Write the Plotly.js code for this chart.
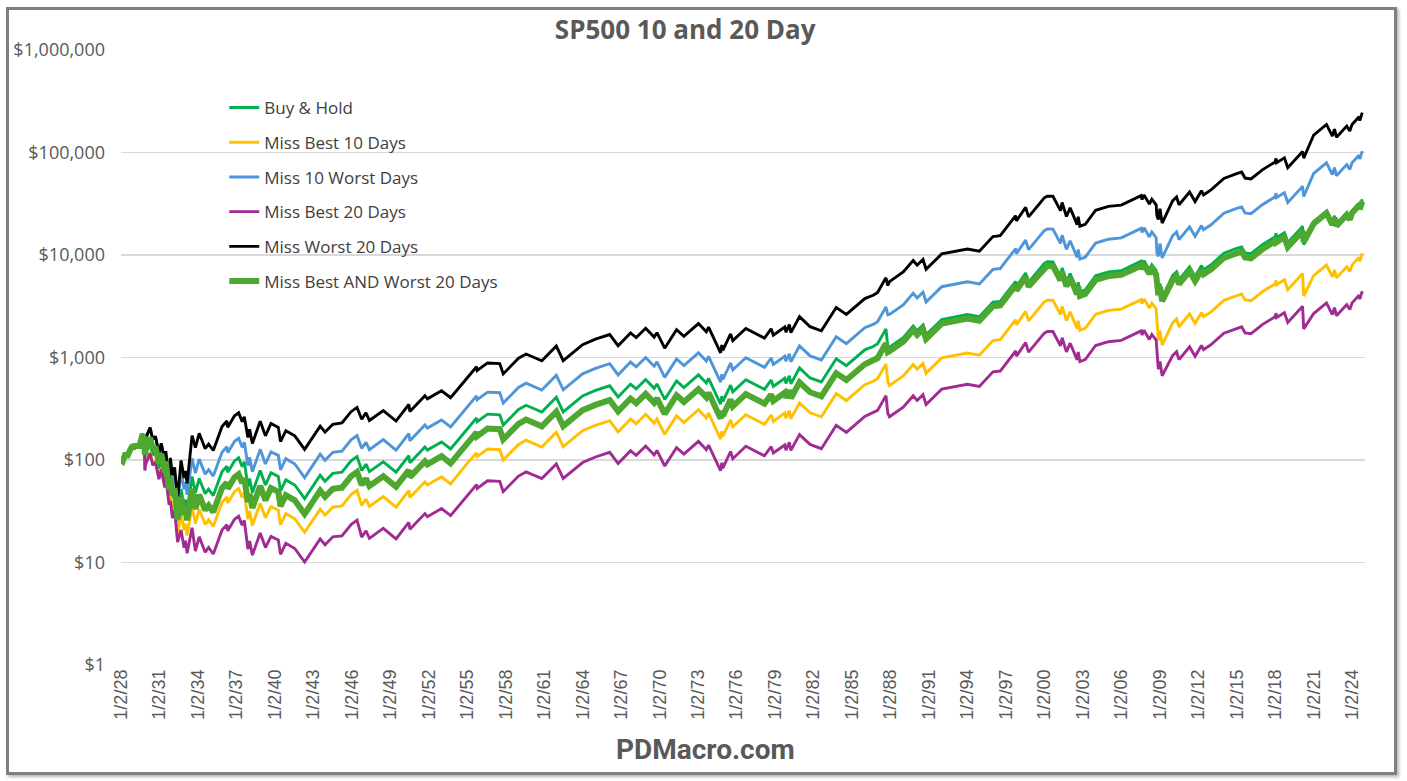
<!DOCTYPE html>
<html>
<head>
<meta charset="utf-8">
<script src="https://cdn.plot.ly/plotly-3.0.1.min.js"></script>
<style>
html,body{margin:0;padding:0;background:#fff;}
#wrap{position:relative;width:1407px;height:781px;overflow:hidden;}
#chart{position:absolute;left:0;top:0;width:1407px;height:781px;}
#frame{position:absolute;left:6px;top:7px;width:1385px;height:762px;border:3px solid #7f7f7f;box-shadow:2px 2px 3px #b5b5b5;pointer-events:none;}
</style>
</head>
<body>
<div id="wrap"><div id="chart"></div><div id="frame"></div></div>
<script>
const dates = [
'1928-01-03','1928-02-20','1928-05-14','1928-06-18','1928-09-07','1928-11-28','1928-12-08','1929-01-31','1929-03-26','1929-05-01',
'1929-05-27','1929-09-07','1929-10-04','1929-10-10','1929-10-25','1929-10-29','1929-11-13','1929-12-09','1930-01-02','1930-04-10',
'1930-06-24','1930-09-10','1930-12-16','1931-02-24','1931-06-02','1931-06-27','1931-10-05','1931-11-09','1932-01-05','1932-03-08',
'1932-06-01','1932-09-07','1932-12-03','1933-01-11','1933-02-27','1933-07-18','1933-10-21','1934-02-06','1934-07-26','1934-11-01',
'1935-03-14','1935-11-19','1936-04-06','1936-04-29','1936-11-09','1937-03-06','1937-06-14','1937-08-14','1937-11-24','1938-01-12',
'1938-03-31','1938-11-09','1939-04-08','1939-09-12','1940-04-08','1940-06-10','1940-11-09','1941-07-22','1942-04-28','1943-07-14',
'1943-11-30','1944-07-10','1945-03-26','1945-12-10','1946-05-29','1946-10-09','1947-02-08','1947-05-17','1948-06-15','1949-06-13',
'1950-06-12','1950-07-13','1951-09-14','1951-11-24','1952-12-30','1953-09-14','1954-12-31','1955-09-23','1955-10-11','1956-08-02',
'1957-07-15','1957-10-22','1958-12-31','1959-08-03','1960-10-25','1961-12-12','1962-06-26','1963-12-31','1964-12-31','1966-02-09',
'1966-10-07','1967-09-25','1968-03-05','1968-11-29','1969-07-29','1969-10-17','1970-05-26','1971-04-28','1971-11-23','1973-01-11',
'1973-08-22','1973-10-26','1974-10-03','1974-11-07','1974-12-06','1975-07-15','1975-09-16','1976-09-21','1978-03-06','1978-09-12',
'1978-11-14','1979-10-05','1979-11-07','1980-02-13','1980-03-27','1980-11-28','1981-09-25','1982-08-12','1983-10-10','1984-07-24',
'1985-12-31','1986-09-12','1986-12-31','1987-08-25','1987-10-19','1987-12-04','1988-12-30','1989-10-09','1990-01-30','1990-07-16',
'1990-10-11','1991-12-31','1993-12-31','1994-12-08','1995-12-29','1996-07-24','1996-12-31','1997-10-07','1997-10-27','1998-07-17',
'1998-10-08','1999-12-31','2000-03-24','2000-09-01','2001-04-04','2001-05-21','2001-09-21','2002-01-04','2002-07-23','2002-08-22',
'2002-10-09','2003-03-11','2003-12-31','2004-12-31','2005-12-30','2006-12-29','2007-07-19','2007-08-15','2007-10-09','2008-03-10',
'2008-05-19','2008-09-19','2008-10-10','2008-11-20','2009-01-06','2009-03-09','2009-12-31','2010-04-23','2010-07-02','2011-04-29',
'2011-10-03','2012-04-02','2012-06-01','2012-12-31','2013-12-31','2014-12-29','2015-05-21','2015-08-25','2016-02-11','2016-12-30',
'2017-12-29','2018-01-26','2018-02-08','2018-09-20','2018-12-24','2019-12-31','2020-02-19','2020-03-23','2020-12-31','2021-12-31',
'2022-06-16','2022-08-16','2022-10-12','2023-07-31','2023-10-27','2023-12-29','2024-07-16','2024-08-05','2024-10-15'
];

const buyHold = [
100,97,117,106,123,139,128,142,132,143,
130,179,163,171,147,115,99.4,124,121,146,
112,120,82,102,68,86,46,63,43,51,
25,52,35,41,31,69,48,66,47,52,
45,77,87,76,98,105,86,96,55,66,
48,79,57,75,69,50,64,57,42,71,
62,74,76,98,108,79,91,77,96,76,
110,94,134,125,150,128,203,257,236,280,
276,219,311,342,294,409,295,422,477,530,
412,550,494,610,500,552,390,590,508,677,
563,626,351,419,372,538,462,607,489,602,
521,627,560,663,553,791,632,577,972,832,
1188,1288,1363,1896,1265,1261,1563,2026,1823,2077,
1664,2348,2624,2498,3463,3531,4167,5535,4933,6682,
5400,8271,8598,8574,6211,7460,5434,6600,4536,5420,
4374,4558,6261,6824,7027,7984,8707,7964,8812,7188,
8029,7066,5047,4234,5263,3809,6278,6852,5755,7675,
6188,7883,7196,8029,10405,11593,11999,10489,10298,12607,
15056,16330,14780,16503,13238,18193,19065,12596,21149,26836,
20657,24130,20141,25839,23181,26858,31909,29201,35000
];

const missBest10 = [
100,97,117,106,123,139,128,142,132,143,
130,179,163,171,147,115,80.8,101,98.4,119,
91.1,97.6,66.7,82.9,55.3,69.9,37.4,45.6,31.1,36.9,
18.1,30.6,20.6,24.1,18.3,35.4,24.0,33.1,23.5,26.1,
22.5,38.6,43.6,38.1,49.1,52.6,43.1,48.1,26.4,31.7,
23.0,37.9,27.4,35.1,32.3,23.4,30.0,26.7,19.7,33.2,
29.0,34.6,35.6,45.9,50.5,36.1,41.6,35.2,43.9,34.7,
50.3,43.0,61.2,57.1,68.6,58.5,92.8,117,108,128,
126,100,142,156,134,187,135,193,218,242,
188,251,226,279,229,252,178,270,232,309,
257,286,160,191,170,246,211,277,223,275,
238,287,256,303,253,361,289,264,444,380,
543,589,623,866,578,532,660,855,769,876,
702,991,1107,1054,1461,1490,1758,2336,2082,2820,
2279,3490,3628,3618,2621,3148,2293,2785,1914,2287,
1846,1923,2642,2880,2965,3369,3674,3361,3719,3033,
3388,2982,2130,1469,1826,1322,2178,2378,1997,2663,
2147,2735,2497,2786,3611,4023,4164,3640,3573,4375,
5224,5667,5129,5727,4594,6313,6616,3980,6281,7970,
6135,7167,5982,7674,6885,7977,9477,8673,10395
];

const miss10Worst = [
100,97,117,106,123,139,128,142,132,143,
130,179,163,171,147,147,141,176,172,207,
159,170,116,145,96.5,122,65.3,91.0,62.1,73.7,
36.1,76.9,51.8,60.6,45.8,104,74.4,102,72.8,80.5,
69.7,119,135,118,152,163,133,149,88.2,106,
76.9,127,91.4,120,111,80.2,103,91.4,67.3,114,
99.4,119,122,157,173,130,149,126,158,125,
181,154,220,205,246,210,333,422,387,459,
453,359,510,561,482,671,484,693,783,870,
676,903,811,1001,821,906,640,968,834,1111,
924,1027,576,688,610,883,758,996,802,988,
855,1029,919,1088,907,1298,1037,947,1595,1365,
1950,2114,2237,3111,2612,2634,3265,4232,3808,4339,
3476,4905,5482,5218,7234,7376,8705,11563,10305,13959,
11281,17278,17961,17911,12975,15584,11352,13787,9476,11322,
9137,9522,13079,14255,14679,16679,18189,16637,18408,15016,
16773,14761,10543,9700,12921,9351,15412,16822,14129,18842,
15192,19353,17666,19711,25544,28461,29457,25750,25282,30950,
36962,40090,36285,40515,32499,44664,46805,37171,62411,79193,
60959,71208,59436,76251,68407,79258,94163,86172,103285
];

const missBest20 = [
100,97,117,106,123,139,128,142,132,143,
130,179,163,171,147,115,78.9,98.5,96.1,116,
88.9,95.3,65.1,81.0,54.0,68.3,36.5,39.8,27.1,32.2,
15.8,20.7,13.9,16.3,12.3,21.8,12.9,17.8,12.6,14.0,
12.1,20.7,23.4,20.4,26.4,28.2,23.1,25.8,13.5,16.2,
11.8,19.4,14.0,18.0,16.6,12.0,15.4,13.7,10.1,17.0,
14.9,17.8,18.2,23.5,25.9,17.7,20.4,17.2,21.5,17.0,
24.6,21.1,30.0,28.0,33.6,28.7,45.5,57.6,52.9,62.7,
61.8,49.1,69.7,76.6,65.9,91.6,66.1,94.5,107,119,
92.3,123,111,137,112,124,87.4,132,114,152,
126,140,78.6,93.9,83.3,121,103,136,110,135,
117,140,125,149,124,177,142,129,218,186,
266,289,305,425,283,264,327,423,381,434,
348,491,548,522,724,738,871,1157,1031,1397,
1129,1729,1797,1792,1298,1559,1136,1379,948,1133,
914,953,1309,1426,1469,1669,1820,1664,1842,1502,
1678,1477,1055,771,916,663,1042,1137,955,1274,
1027,1309,1195,1333,1727,1924,1992,1741,1709,2093,
2499,2711,2453,2739,2198,3020,3165,1902,2686,3408,
2623,3065,2558,3282,2944,3411,4052,3709,4445
];

const missWorst20 = [
100,97,117,106,123,139,128,142,132,143,
130,179,163,171,147,147,141,176,172,207,
159,170,116,145,96.5,122,65.3,105,71.4,84.7,
41.5,99.1,66.7,78.1,59.1,173,132,182,129,143,
124,212,240,209,270,289,237,264,166,199,
145,239,172,227,208,151,193,172,127,214,
187,223,230,296,326,250,288,243,304,240,
348,297,424,395,474,405,642,813,746,885,
873,692,983,1081,930,1293,933,1334,1508,1676,
1303,1739,1562,1929,1581,1745,1233,1866,1606,2141,
1780,1979,1110,1325,1176,1701,1461,1919,1546,1904,
1647,1983,1771,2096,1749,2501,1998,1824,3073,2631,
3756,4073,4310,5995,5036,5504,6823,8844,7957,9066,
7263,10249,11454,10904,15116,15413,18189,24160,21533,29167,
23571,36103,37530,37426,27111,32563,23719,28809,19800,23658,
19093,19896,27329,29787,30673,34850,38006,34763,38464,31376,
35047,30843,24155,22220,28262,20454,33713,36795,30904,41215,
33230,42332,38643,43116,55875,62254,64435,56326,55300,67700,
80851,87692,79369,88621,71088,97696,102379,88147,148001,187798,
144558,168862,140947,180821,162221,187952,223299,204349,244930
];

const missBestWorst20 = [
100,97,117,106,123,139,128,142,132,143,
130,179,163,171,147,147,112,140,136,165,
126,135,92.4,115,76.6,96.9,51.8,66.0,45.0,53.4,
26.2,43.3,29.1,34.1,25.8,52.4,33.2,45.7,32.5,36.0,
31.1,53.3,60.2,52.6,67.8,72.7,59.5,66.4,38.9,46.7,
34.0,55.9,40.4,53.1,48.9,35.4,45.3,40.4,29.7,50.3,
43.9,52.4,53.8,69.4,76.5,57.2,65.9,55.7,69.5,55.0,
79.6,68.1,97.0,90.5,109,92.7,147,186,171,203,
200,159,225,248,213,296,214,306,345,384,
298,398,358,442,362,400,282,427,368,490,
408,453,254,303,269,390,334,439,354,436,
377,454,405,480,400,573,458,418,704,602,
860,933,987,1373,1127,1150,1425,1848,1663,1894,
1518,2141,2393,2278,3158,3220,3800,5048,4499,6094,
4925,7543,7841,7819,5664,6804,4956,6019,4137,4943,
3989,4157,5710,6223,6409,7281,7941,7263,8037,6555,
7322,6444,4931,4043,4910,3554,5663,6181,5191,6923,
5582,7110,6491,7242,9385,10457,10823,9461,9289,11372,
13581,14730,13332,14886,11941,16410,17197,13339,20197,25628,
19727,23044,19235,24676,22138,25649,30473,27887,33425
];

const seriesNames = ['Buy & Hold','Miss Best 10 Days','Miss 10 Worst Days','Miss Best 20 Days','Miss Worst 20 Days','Miss Best AND Worst 20 Days'];

const tickDates = ['1928-01-02','1931-01-02','1934-01-02','1937-01-02','1940-01-02','1943-01-02','1946-01-02','1949-01-02','1952-01-02','1955-01-02','1958-01-02',
'1961-01-02','1964-01-02','1967-01-02','1970-01-02','1973-01-02','1976-01-02','1979-01-02','1982-01-02','1985-01-02','1988-01-02','1991-01-02',
'1994-01-02','1997-01-02','2000-01-02','2003-01-02','2006-01-02','2009-01-02','2012-01-02','2015-01-02','2018-01-02','2021-01-02','2024-01-02'];
const tickLabels = ['1/2/28','1/2/31','1/2/34','1/2/37','1/2/40','1/2/43','1/2/46','1/2/49','1/2/52','1/2/55','1/2/58',
'1/2/61','1/2/64','1/2/67','1/2/70','1/2/73','1/2/76','1/2/79','1/2/82','1/2/85','1/2/88','1/2/91',
'1/2/94','1/2/97','1/2/00','1/2/03','1/2/06','1/2/09','1/2/12','1/2/15','1/2/18','1/2/21','1/2/24'];

const yTickVals = [1,10,100,1000,10000,100000,1000000];
const yTickText = ['$1','$10','$100','$1,000','$10,000','$100,000','$1,000,000'];

const values = [buyHold, missBest10, miss10Worst, missBest20, missWorst20, missBestWorst20];
const colors = ['#00B050','#FFC000','#4E95D9','#A02B93','#000000','#4EA72E'];
const widths = [2.9,2.9,2.9,2.9,2.9,6];

const traces = values.map((v,i)=>({
  type:'scatter', mode:'lines', x:dates, y:v, name:seriesNames[i],
  legendgroup:'g'+i,
  line:{color:colors[i], width:widths[i]},
  hoverinfo:'skip'
}));

const layout = {
  width:1407, height:781,
  margin:{l:121, r:42, t:50, b:116},
  paper_bgcolor:'#ffffff', plot_bgcolor:'#ffffff',
  title:{text:'<b>SP500 10 and 20 Day</b>', font:{family:'Open Sans', size:26, color:'#595959'},
         x:0.487, xanchor:'center', y:0.962, yanchor:'middle', xref:'container', yref:'container'},
  showlegend:true,
  legend:{x:0.083, y:0.935, xanchor:'left', yanchor:'top', traceorder:'grouped', tracegroupgap:9.6,
          font:{family:'Open Sans', size:17, color:'#404040'}, bgcolor:'rgba(0,0,0,0)'},
  xaxis:{type:'date', range:['1928-01-02','2025-01-01'], tickmode:'array', tickvals:tickDates, ticktext:tickLabels,
         tickangle:-90, showgrid:false, zeroline:false, showline:false, ticks:'',
         tickfont:{family:'Liberation Sans', size:18, color:'#595959'}},
  yaxis:{type:'log', range:[0,6], tickmode:'array', tickvals:yTickVals, ticktext:yTickText,
         showgrid:true, gridcolor:'#d9d9d9', gridwidth:1.3, zeroline:false, showline:false, ticks:'',
         ticklabelstandoff:15,
         tickfont:{family:'Open Sans', size:18, color:'#595959'}},
  annotations:[{text:'<b>PDMacro.com</b>', xref:'paper', yref:'paper', x:0.4695, y:-0.138,
                xanchor:'center', yanchor:'middle', showarrow:false,
                font:{family:'Roboto', size:28, color:'#595959'}}],
  hovermode:false
};

Plotly.newPlot('chart', traces, layout, {displayModeBar:false, staticPlot:true});
</script>
</body>
</html>
